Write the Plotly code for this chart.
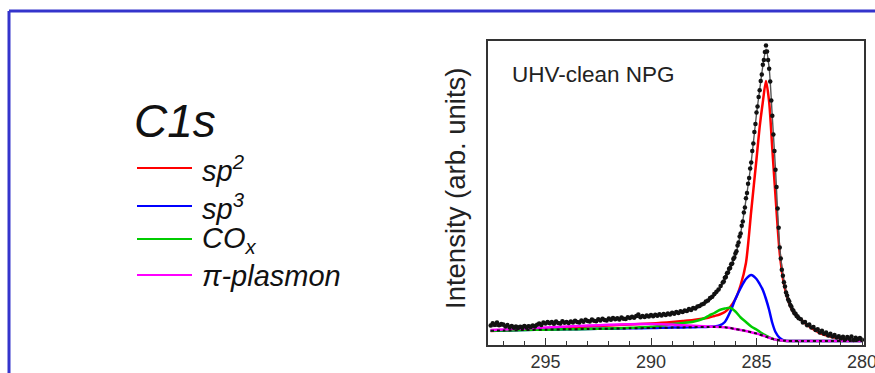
import plotly.graph_objects as go

# ---------------- C 1s spectrum: measured points ----------------
E_data = [
    297.6, 297.5, 297.4, 297.3, 297.2, 297.1, 297.0, 296.9, 296.8, 296.7,
    296.6, 296.5, 296.4, 296.3, 296.2, 296.1, 296.0, 295.9, 295.8, 295.7,
    295.6, 295.5, 295.4, 295.3, 295.2, 295.1, 295.0, 294.9, 294.8, 294.7,
    294.6, 294.5, 294.4, 294.3, 294.2, 294.1, 294.0, 293.9, 293.8, 293.7,
    293.6, 293.5, 293.4, 293.3, 293.2, 293.1, 293.0, 292.9, 292.8, 292.7,
    292.6, 292.5, 292.4, 292.3, 292.2, 292.1, 292.0, 291.9, 291.8, 291.7,
    291.6, 291.5, 291.4, 291.3, 291.2, 291.1, 291.0, 290.9, 290.8, 290.7,
    290.6, 290.5, 290.4, 290.3, 290.2, 290.1, 290.0, 289.9, 289.8, 289.7,
    289.6, 289.5, 289.4, 289.3, 289.2, 289.1, 289.0, 288.9, 288.8, 288.7,
    288.6, 288.5, 288.4, 288.3, 288.2, 288.1, 288.0, 287.9, 287.8, 287.7,
    287.6, 287.5, 287.4, 287.3, 287.2, 287.1, 287.0, 286.9, 286.8, 286.7,
    286.6,
    286.55, 286.50, 286.45, 286.40, 286.35, 286.30, 286.25, 286.20, 286.15, 286.10,
    286.05, 286.00, 285.95, 285.90, 285.85, 285.80, 285.75, 285.70, 285.65, 285.60,
    285.55, 285.50, 285.45, 285.40, 285.35, 285.30, 285.25, 285.20, 285.15, 285.10,
    285.05, 285.00, 284.95, 284.90, 284.85, 284.80, 284.75, 284.70, 284.65, 284.60,
    284.55, 284.50, 284.45, 284.40, 284.35, 284.30, 284.25, 284.20, 284.15, 284.10,
    284.05, 284.00, 283.95, 283.90, 283.85, 283.80, 283.75, 283.70, 283.65, 283.60,
    283.55, 283.50, 283.45, 283.40, 283.35, 283.30, 283.25, 283.20, 283.15, 283.10,
    283.05, 283.00,
    282.9, 282.8, 282.7, 282.6, 282.5, 282.4, 282.3, 282.2, 282.1, 282.0,
    281.9, 281.8, 281.7, 281.6, 281.5, 281.4, 281.3, 281.2, 281.1, 281.0,
    280.9, 280.8, 280.7, 280.6, 280.5, 280.4, 280.3, 280.2, 280.1, 280.0,
]
I_data = [
    19.5, 21.8, 20.2, 22.4, 19.8, 21.0, 20.5, 18.6, 19.9, 17.8,
    18.9, 17.2, 18.5, 16.9, 18.2, 17.5, 19.0, 17.6, 18.8, 17.9,
    19.6, 18.4, 20.3, 21.5, 20.1, 22.6, 21.4, 23.0, 21.7, 22.9,
    21.2, 23.4, 22.0, 21.6, 23.8, 22.3, 23.1, 21.9, 23.6, 22.5,
    24.2, 23.0, 22.4, 24.6, 23.3, 25.2, 24.0, 23.5, 25.4, 24.3,
    23.8, 25.7, 24.6, 26.2, 25.0, 24.4, 26.4, 25.3, 27.0, 25.8,
    26.7, 25.6, 27.5, 26.3, 25.9, 27.8, 26.9, 28.3, 27.2, 28.9,
    30.4, 27.8, 29.0, 28.1, 29.6, 28.4, 29.9, 28.7, 30.3, 29.2,
    30.8, 29.5, 31.0, 30.1, 31.5, 30.6, 32.2, 31.3, 33.0, 32.1,
    33.8, 33.0, 34.6, 34.0, 35.9, 35.1, 37.0, 36.6, 38.5, 38.9,
    40.6, 41.2, 43.5, 44.4, 47.0, 48.3, 51.0, 53.2, 55.5, 59.0,
    62.5,
    63.5, 67.2, 67.9, 71.8, 72.4, 76.3, 77.0, 80.8, 81.6, 85.9,
    87.4, 91.6, 93.8, 99.5, 102.6, 108.4, 111.5, 119.2, 123.6, 132.4,
    137.5, 146.8, 152.0, 161.3, 167.0, 176.6, 182.4, 194.0, 201.5, 213.1,
    221.0, 232.4, 238.6, 248.1, 254.7, 264.0, 270.5, 280.3, 285.1, 293.0,
    299.6, 293.4, 285.0, 276.2, 263.5, 244.6, 229.3, 210.4, 193.9, 175.2,
    158.1, 136.4, 117.2, 97.5, 86.6, 75.3, 69.2, 62.8, 58.6, 52.4,
    49.5, 45.6, 43.4, 40.1, 38.5, 35.6, 34.3, 31.8, 31.2, 28.9,
    28.4, 26.7,
    25.8, 22.6, 22.9, 19.8, 20.6, 17.4, 18.1, 14.9, 15.8, 12.6,
    14.2, 11.3, 12.5, 9.4, 11.2, 8.6, 10.1, 7.4, 8.8, 6.5,
    8.3, 5.6, 7.9, 6.2, 8.4, 5.1, 7.2, 5.8, 6.9, 5.3,
]

# ---------------- fitted components (on Shirley background) ----------------
E_fit = [297.6, 297.0, 296.0, 295.0, 294.0, 293.0, 292.0, 291.0, 290.0, 289.5,
         289.0, 288.5, 288.0, 287.5, 287.25, 287.0, 286.75, 286.5, 286.25, 286.0,
         285.75, 285.5, 285.25, 285.0, 284.85, 284.7, 284.55, 284.4, 284.25, 284.1,
         283.9, 283.7, 283.5, 283.25, 283.0, 282.5, 282.0, 281.5, 281.0, 280.5, 280.0]

envelope = [18.5, 19.0, 19.5, 21.0, 22.5, 24.0, 25.5, 27.0, 28.8, 29.8,
            31.0, 33.0, 35.5, 40.5, 44.0, 49.0, 55.5, 66.0, 77.0, 90.0,
            112.0, 145.0, 183.0, 231.0, 255.0, 279.0, 296.0, 277.0, 228.0, 176.0,
            98.0, 64.0, 46.0, 34.0, 27.0, 19.3, 12.8, 9.2, 7.1, 5.6, 5.0]

sp2 = [14.0, 14.5, 15.5, 16.5, 17.5, 18.5, 19.5, 20.5, 21.5, 22.2,
       23.0, 24.0, 25.0, 26.5, 27.5, 29.0, 30.5, 33.0, 38.0, 46.0,
       60.0, 82.0, 134.0, 186.0, 218.0, 243.0, 264.0, 243.0, 196.0, 149.0,
       92.0, 61.0, 45.0, 33.0, 27.5, 18.5, 12.0, 8.4, 6.3, 4.9, 4.2]

sp3 = [14.3, 14.5, 15.0, 15.3, 15.7, 16.0, 16.3, 16.7, 17.0, 17.2,
       17.4, 17.6, 17.8, 18.0, 18.2, 18.5, 19.5, 23.0, 33.0, 46.0,
       57.0, 66.0, 70.0, 66.0, 61.0, 55.0, 46.0, 35.0, 22.0, 13.0,
       7.0, 4.5, 4.0, 4.0, 4.0, 4.0, 4.0, 4.0, 4.0, 4.0, 4.0]

cox = [14.3, 14.5, 15.0, 15.3, 15.7, 16.0, 16.4, 17.2, 18.2, 19.5,
       21.0, 22.0, 23.3, 26.5, 29.5, 32.0, 35.0, 36.5, 37.2, 33.5,
       27.5, 23.0, 18.5, 15.5, 13.2, 11.2, 9.5, 7.7, 6.4, 5.4,
       4.6, 4.2, 4.0, 4.0, 4.0, 4.0, 4.0, 4.0, 4.0, 4.0, 4.0]

plasmon = [15.0, 15.5, 16.5, 17.5, 18.5, 19.5, 20.2, 20.8, 21.0, 20.8,
           20.4, 19.8, 19.2, 18.7, 18.4, 18.3, 18.1, 17.8, 17.0, 16.0,
           15.0, 14.0, 12.7, 11.5, 10.5, 9.5, 8.3, 7.2, 6.2, 5.4,
           4.7, 4.3, 4.0, 4.0, 4.0, 4.0, 4.0, 4.0, 4.0, 4.0, 4.0]

shirley = [14.3, 14.5, 15.0, 15.3, 15.7, 16.0, 16.3, 16.7, 17.0, 17.2,
           17.4, 17.6, 17.8, 18.0, 18.0, 18.0, 18.0, 17.7, 17.0, 16.0,
           15.0, 14.0, 12.7, 11.5, 10.5, 9.5, 8.3, 7.2, 6.2, 5.4,
           4.7, 4.3, 4.0, 4.0, 4.0, 4.0, 4.0, 4.0, 4.0, 4.0, 4.0]

# legend entries: (label, colour)
legend_items = [
    ("<i>sp<sup>2</sup></i>", "#ff0000"),
    ("<i>sp<sup>3</sup></i>", "#0000ff"),
    ("<i>CO<sub>x</sub></i>", "#00cc00"),
    ("<i>π-plasmon</i>", "#ff00ff"),
]

FONT = "Liberation Sans, Arial, Helvetica, sans-serif"
W, H = 875, 373
L, R, T, B = 488, 11, 41, 28
PW, PH = W - L - R, H - T - B


def px(x):
    return (x - L) / PW


def py(y):
    return (H - B - y) / PH


fig = go.Figure()

curve = dict(shape="spline", smoothing=0.7)
fig.add_trace(go.Scatter(x=E_fit, y=sp2, mode="lines",
                         line=dict(color="#ff0000", width=2.5, **curve)))
fig.add_trace(go.Scatter(x=E_fit, y=sp3, mode="lines",
                         line=dict(color="#0000ff", width=2.5, **curve)))
fig.add_trace(go.Scatter(x=E_fit, y=cox, mode="lines",
                         line=dict(color="#00cc00", width=2.5, **curve)))
fig.add_trace(go.Scatter(x=E_fit, y=plasmon, mode="lines",
                         line=dict(color="#ff00ff", width=2.5, **curve)))
fig.add_trace(go.Scatter(x=E_fit, y=shirley, mode="lines",
                         line=dict(color="#111111", width=2, dash="3px,3px", **curve)))
fig.add_trace(go.Scatter(x=E_fit, y=envelope, mode="lines",
                         line=dict(color="#555555", width=1.4, **curve)))
fig.add_trace(go.Scatter(x=E_data, y=I_data, mode="markers",
                         marker=dict(color="#111111", size=4.5, line=dict(width=0))))

axis_line = dict(showline=True, mirror=True, linecolor="#333333", linewidth=1.6,
                 showgrid=False, zeroline=False, automargin=False)

fig.update_xaxes(range=[297.725, 279.905], tickmode="linear", tick0=280, dtick=5,
                 ticks="inside", ticklen=7, tickwidth=1.3, tickcolor="#333333",
                 minor=dict(tick0=280, dtick=1, ticks="inside", ticklen=4,
                            tickwidth=1.2, tickcolor="#333333"),
                 tickfont=dict(family=FONT, size=18, color="#333333"),
                 ticklabeloverflow="allow", ticklabelstandoff=0,
                 **axis_line)
fig.update_yaxes(range=[0, 304], showticklabels=False, ticks="", **axis_line)

shapes = []
# blue frame around the panel
blue = "#3434cc"
shapes.append(dict(type="line", xref="paper", yref="paper",
                   x0=px(9), x1=px(890), y0=py(11), y1=py(11),
                   line=dict(color=blue, width=3)))
shapes.append(dict(type="line", xref="paper", yref="paper",
                   x0=px(9), x1=px(9), y0=py(11), y1=py(390),
                   line=dict(color=blue, width=3)))

annotations = []
annotations.append(dict(text="<i>C1s</i>", xref="paper", yref="paper",
                        x=px(132), y=py(121), xanchor="left", yanchor="middle",
                        showarrow=False, font=dict(family=FONT, size=46, color="#111111")))

legend_y = [168, 206, 239, 275]
for (label, colour), ly in zip(legend_items, legend_y):
    shapes.append(dict(type="line", xref="paper", yref="paper",
                       x0=px(137), x1=px(192), y0=py(ly), y1=py(ly),
                       line=dict(color=colour, width=2)))
    annotations.append(dict(text=label, xref="paper", yref="paper",
                            x=px(200), y=py(ly + 1), xanchor="left", yanchor="middle",
                            showarrow=False,
                            font=dict(family=FONT, size=29, color="#111111")))

annotations.append(dict(text="UHV-clean NPG", xref="paper", yref="paper",
                        x=px(510), y=py(75), xanchor="left", yanchor="middle",
                        showarrow=False, font=dict(family=FONT, size=22.5, color="#222222")))
annotations.append(dict(text="Intensity (arb. units)", xref="paper", yref="paper",
                        x=px(455), y=py(189), xanchor="center", yanchor="middle",
                        textangle=-90, showarrow=False,
                        font=dict(family=FONT, size=27.5, color="#222222")))

fig.update_layout(width=W, height=H, autosize=False,
                  margin=dict(l=L, r=R, t=T, b=B, pad=0),
                  paper_bgcolor="white", plot_bgcolor="white",
                  showlegend=False, shapes=shapes, annotations=annotations)

fig.write_html("out.html", config={"displayModeBar": False})
